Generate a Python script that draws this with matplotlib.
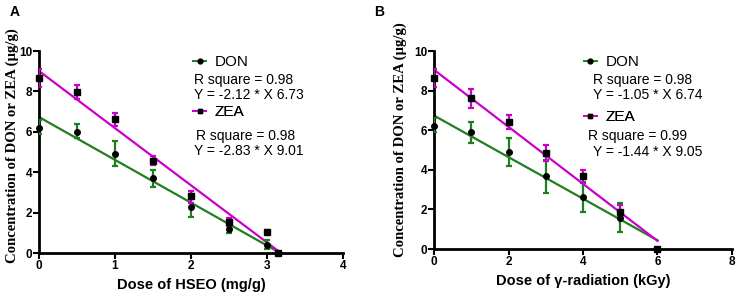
import matplotlib
matplotlib.use("Agg")
import matplotlib.pyplot as plt
from matplotlib.lines import Line2D
import numpy as np

# ---- Data ----
hseo_dose = [0, 0.5, 1, 1.5, 2, 2.5, 3, 3.15]
hseo_don = [6.2, 6.0, 4.9, 3.7, 2.3, 1.2, 0.4, 0.0]
hseo_don_lo = [5.9, 5.7, 4.3, 3.25, 1.8, 1.0, 0.2, 0.0]
hseo_don_hi = [6.6, 6.4, 5.55, 4.1, 2.9, 1.55, 0.65, 0.0]
hseo_zea = [8.65, 7.95, 6.65, 4.55, 2.8, 1.55, 1.05, 0.0]
hseo_zea_lo = [8.2, 7.6, 6.3, 4.35, 2.5, 1.35, 0.98, 0.0]
hseo_zea_hi = [9.1, 8.3, 6.95, 4.8, 3.05, 1.75, 1.12, 0.0]
hseo_fit_x = [0, 3.15]
hseo_don_fit = (-2.12, 6.73)
hseo_zea_fit = (-2.83, 9.01)

gamma_dose = [0, 1, 2, 3, 4, 5, 6]
gamma_don = [6.2, 5.9, 4.9, 3.7, 2.65, 1.55, 0.0]
gamma_don_lo = [5.9, 5.35, 4.2, 2.85, 1.85, 0.85, 0.0]
gamma_don_hi = [6.6, 6.4, 5.6, 4.5, 3.4, 2.3, 0.0]
gamma_zea = [8.65, 7.65, 6.4, 4.85, 3.7, 1.85, 0.0]
gamma_zea_lo = [8.2, 7.1, 6.05, 4.45, 3.35, 1.5, 0.0]
gamma_zea_hi = [9.1, 8.1, 6.75, 5.25, 4.0, 2.2, 0.0]
gamma_fit_x = [0, 6]
gamma_don_fit = (-1.05, 6.74)
gamma_zea_fit = (-1.44, 9.05)

don_label_a = ["R square = 0.98", "Y = -2.12 * X 6.73"]
zea_label_a = ["R square = 0.98", "Y = -2.83 * X 9.01"]
don_label_b = ["R square = 0.98", "Y = -1.05 * X 6.74"]
zea_label_b = ["R square = 0.99", "Y = -1.44 * X 9.05"]

GREEN = "#1f7f1f"
MAGENTA = "#cc00cc"
SANS = "Liberation Sans"
SERIF = "Liberation Serif"

fig = plt.figure(figsize=(7.37, 2.98), dpi=100)
axA = fig.add_axes([39/737, 1-253/298, (343-39)/737, (253-51)/298])
axB = fig.add_axes([434/737, 1-249/298, (732-434)/737, (249-51)/298])


def draw(ax, x, don, dlo, dhi, zea, zlo, zhi, fitx, dfit, zfit, xmax, xticks,
         xlabel, dtxt, ztxt, lay, ylab_xy):
    x = np.array(x)
    fx = np.array(fitx)
    ax.plot(fx, dfit[0]*fx + dfit[1], color=GREEN, lw=1.6, zorder=2)
    ax.plot(fx, zfit[0]*fx + zfit[1], color=MAGENTA, lw=1.6, zorder=2)
    don = np.array(don); zea = np.array(zea)
    ax.errorbar(x, don, yerr=[don-np.array(dlo), np.array(dhi)-don], fmt="none",
                ecolor=GREEN, elinewidth=1.6, capsize=2.5, capthick=1.6, zorder=3)
    ax.errorbar(x, zea, yerr=[zea-np.array(zlo), np.array(zhi)-zea], fmt="none",
                ecolor=MAGENTA, elinewidth=1.6, capsize=2.5, capthick=1.6, zorder=3)
    ax.plot(x, don, "o", color="black", ms=4, zorder=4, clip_on=False)
    ax.plot(x, zea, "s", color="black", ms=4, zorder=4, clip_on=False)
    ax.set_xlim(0, xmax)
    ax.set_ylim(0, 10)
    ax.set_xticks(xticks)
    ax.set_yticks([0, 2, 4, 6, 8, 10])
    for s in ["top", "right"]:
        ax.spines[s].set_visible(False)
    for s in ["left", "bottom"]:
        ax.spines[s].set_linewidth(2)
    ax.tick_params(direction="out", length=4, width=1.5, pad=1)
    for lab in ax.get_xticklabels() + ax.get_yticklabels():
        lab.set_fontfamily(SANS)
        lab.set_fontweight("bold")
        lab.set_fontsize(8.5)
    ax.set_xlabel(xlabel, fontfamily=SANS, fontweight="bold", fontsize=10.5, labelpad=4)
    ax.set_ylabel("Concentration of DON or ZEA (\u00b5g/g)", fontfamily=SERIF,
                  fontweight="bold", fontsize=10.6)
    ax.yaxis.set_label_coords(*ylab_xy)
    # legend-like blocks
    h1 = Line2D([], [], color=GREEN, marker="o", mfc="black", mec="black", ms=3.5, lw=1.4)
    h2 = Line2D([], [], color=MAGENTA, marker="s", mfc="black", mec="black", ms=3.5, lw=1.4)
    (hx, dy, tx1, ry1, yy1, zy, tx2, ry2, tx3, yy2) = lay
    l1 = ax.legend([h1], ["DON"], loc="center left", bbox_to_anchor=(hx, dy),
                   frameon=False, handlelength=0.85, handletextpad=0.55, borderpad=0,
                   borderaxespad=0, prop={"family": SANS, "size": 11})
    ax.add_artist(l1)
    ax.text(tx1, ry1, dtxt[0], transform=ax.transAxes, va="center", ha="left",
            fontfamily=SANS, fontsize=10)
    ax.text(tx1, yy1, dtxt[1], transform=ax.transAxes, va="center", ha="left",
            fontfamily=SANS, fontsize=10)
    l2 = ax.legend([h2], ["ZEA"], loc="center left", bbox_to_anchor=(hx, zy),
                   frameon=False, handlelength=0.85, handletextpad=0.55, borderpad=0,
                   borderaxespad=0, prop={"family": SANS, "size": 11})
    ax.add_artist(l2)
    ax.text(tx2, ry2, ztxt[0], transform=ax.transAxes, va="center", ha="left",
            fontfamily=SANS, fontsize=10)
    ax.text(tx3, yy2, ztxt[1], transform=ax.transAxes, va="center", ha="left",
            fontfamily=SANS, fontsize=10)


layA = (0.507, 0.946, 0.510, 0.856, 0.782, 0.698, 0.516, 0.579, 0.510, 0.505)
layB = (0.503, 0.944, 0.534, 0.854, 0.778, 0.667, 0.517, 0.571, 0.534, 0.490)

draw(axA, hseo_dose, hseo_don, hseo_don_lo, hseo_don_hi, hseo_zea, hseo_zea_lo,
     hseo_zea_hi, hseo_fit_x, hseo_don_fit, hseo_zea_fit, 4, [0, 1, 2, 3, 4],
     "Dose of HSEO (mg/g)", don_label_a, zea_label_a, layA, (-0.066, 0.53))
draw(axB, gamma_dose, gamma_don, gamma_don_lo, gamma_don_hi, gamma_zea, gamma_zea_lo,
     gamma_zea_hi, gamma_fit_x, gamma_don_fit, gamma_zea_fit, 8, [0, 2, 4, 6, 8],
     "Dose of \u03b3-radiation (kGy)", don_label_b, zea_label_b, layB, (-0.09, 0.55))

fig.text(10/737, 1-12/298, "A", fontfamily=SANS, fontweight="bold", fontsize=10,
         va="center", ha="left")
fig.text(374/737, 1-12/298, "B", fontfamily=SANS, fontweight="bold", fontsize=10,
         va="center", ha="left")

fig.savefig("out.png", dpi=100)
